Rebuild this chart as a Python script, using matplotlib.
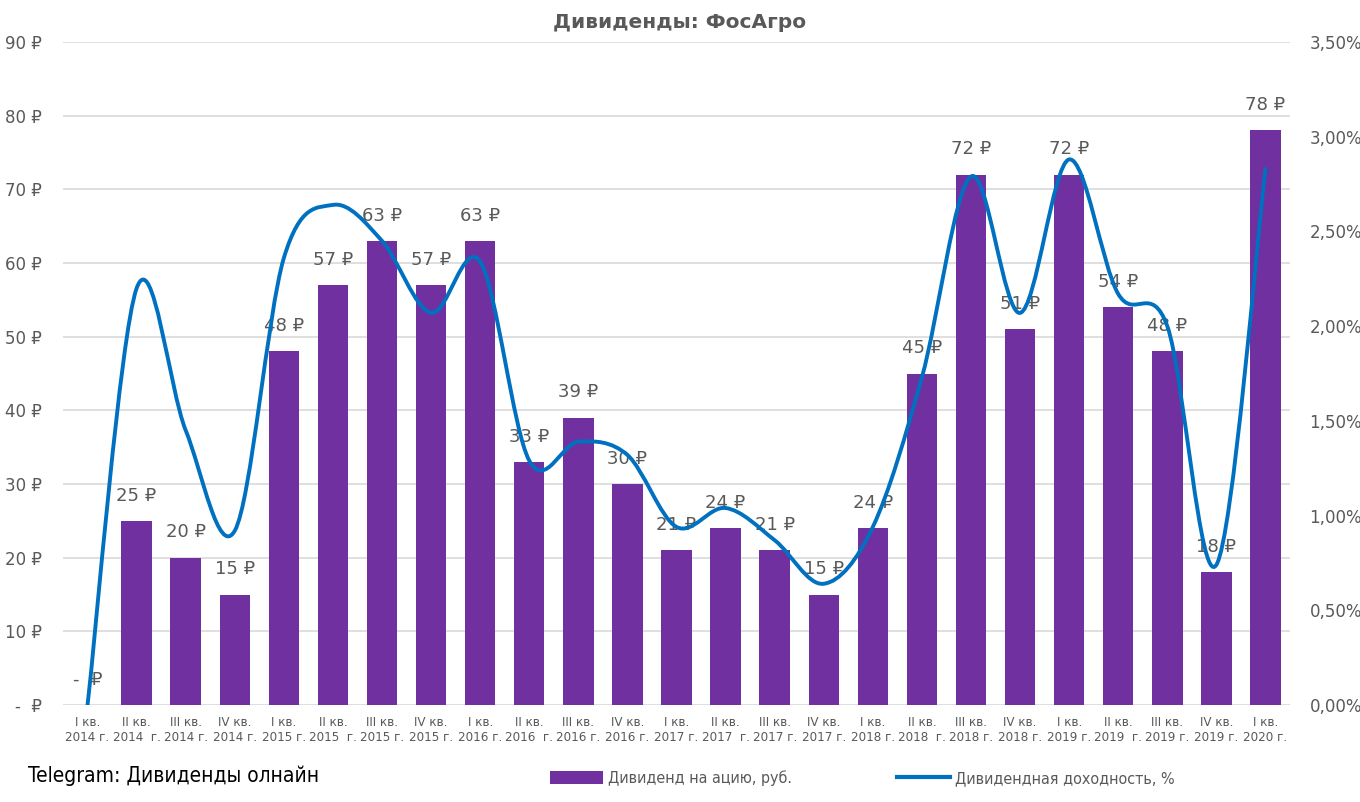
import numpy as np
import matplotlib.pyplot as plt
from matplotlib import font_manager
from matplotlib.path import Path
from matplotlib.patches import PathPatch, Patch
from matplotlib.lines import Line2D
from matplotlib.ticker import FuncFormatter

# Data
quarters = ['I кв.\n2014 г.', 'II кв.\n2014  г.', 'III кв.\n2014 г.', 'IV кв.\n2014 г.',
            'I кв.\n2015 г.', 'II кв.\n2015  г.', 'III кв.\n2015 г.', 'IV кв.\n2015 г.',
            'I кв.\n2016 г.', 'II кв.\n2016  г.', 'III кв.\n2016 г.', 'IV кв.\n2016 г.',
            'I кв.\n2017 г.', 'II кв.\n2017  г.', 'III кв.\n2017 г.', 'IV кв.\n2017 г.',
            'I кв.\n2018 г.', 'II кв.\n2018  г.', 'III кв.\n2018 г.', 'IV кв.\n2018 г.',
            'I кв.\n2019 г.', 'II кв.\n2019  г.', 'III кв.\n2019 г.', 'IV кв.\n2019 г.',
            'I кв.\n2020 г.']
dividend = [0, 25, 20, 15, 48, 57, 63, 57, 63, 33, 39, 30, 21, 24, 21, 15,
            24, 45, 72, 51, 72, 54, 48, 18, 78]
div_yield = [0.00, 2.20, 1.45, 0.92, 2.36, 2.64, 2.45, 2.07, 2.34, 1.29, 1.39, 1.32,
             0.94, 1.04, 0.87, 0.64, 0.94, 1.73, 2.79, 2.07, 2.88, 2.17, 2.00, 0.74, 2.83]

BAR = '#7030A0'
LINE = '#0070C0'
TXT = '#595959'
GRID = '#D9D9D9'

# pick a narrow font for the axis labels if one is around
fonts = font_manager.fontManager.ttflist
names = {f.name for f in fonts}
if 'Liberation Sans Narrow' in names:
    NARROW = dict(family=['Liberation Sans Narrow', 'DejaVu Sans'])
elif any(f.name == 'DejaVu Sans' and f.stretch == 'condensed' for f in fonts):
    NARROW = dict(family=['DejaVu Sans'], stretch='condensed')
else:
    NARROW = dict(family=['DejaVu Sans'])

plt.rcParams['font.family'] = ['DejaVu Sans']


def smooth_path(xs, ys):
    """Excel-like smoothed line as cubic Bezier segments"""
    pts = list(zip(xs, ys))
    n = len(pts)
    verts = [pts[0]]
    codes = [Path.MOVETO]
    for i in range(n - 1):
        p0 = pts[max(i - 1, 0)]
        p1 = pts[i]
        p2 = pts[i + 1]
        p3 = pts[min(i + 2, n - 1)]
        c1 = (p1[0] + (p2[0] - p0[0]) / 6, p1[1] + (p2[1] - p0[1]) / 6)
        c2 = (p2[0] - (p3[0] - p1[0]) / 6, p2[1] - (p3[1] - p1[1]) / 6)
        verts += [c1, c2, p2]
        codes += [Path.CURVE4] * 3
    return Path(verts, codes)


fig = plt.figure(figsize=(13.6, 8.02), dpi=100)
ax = fig.add_axes([63 / 1360, 1 - 705 / 802, 1227 / 1360, 663 / 802])
x = np.arange(len(quarters))

ax.bar(x, dividend, width=0.62, color=BAR, zorder=2)
ax.set_xlim(-0.5, len(quarters) - 0.5)
ax.set_ylim(0, 90)
ax.set_yticks(range(0, 91, 10))
ax.yaxis.set_major_formatter(FuncFormatter(lambda v, p: '-  ₽' if v == 0 else '%d ₽' % v))
ax.grid(axis='y', color=GRID, linewidth=1.2, zorder=0)
for s in ax.spines.values():
    s.set_visible(False)
ax.tick_params(axis='y', length=0, labelsize=12, labelcolor=TXT, pad=15)
ax.set_xticks(x)
ax.set_xticklabels(quarters, fontsize=9.5, color=TXT, linespacing=1.15, **NARROW)
ax.tick_params(axis='x', length=0, pad=8)

for xi, v in zip(x, dividend):
    txt = '-  ₽' if v == 0 else '%d ₽' % v
    ax.text(xi, v + 2.2, txt, ha='center', va='bottom', fontsize=13, color=TXT, zorder=3)

ax2 = ax.twinx()
ax2.set_ylim(0, 3.5)
ax2.set_yticks(np.arange(0, 3.51, 0.5))
ax2.yaxis.set_major_formatter(FuncFormatter(lambda v, p: ('%.2f%%' % v).replace('.', ',')))
ax2.tick_params(axis='y', length=0, labelsize=12, labelcolor=TXT, pad=14)
for s in ax2.spines.values():
    s.set_visible(False)
ax2.add_patch(PathPatch(smooth_path(x, div_yield), facecolor='none', edgecolor=LINE,
                        linewidth=2.8, capstyle='round', zorder=4))

fig.text(0.5, 1 - 22 / 802, 'Дивиденды: ФосАгро', ha='center', va='center',
         fontsize=14.5, fontweight='bold', color=TXT)
fig.text(28 / 1360, 1 - 776 / 802, 'Telegram: Дивиденды олнайн', ha='left', va='center',
         fontsize=15, color='black', **NARROW)

handles = [Patch(facecolor=BAR), Line2D([0], [0], color=LINE, linewidth=3)]
prop = dict(size=11.5, **NARROW)
fig.legend(handles, ['Дивиденд на ацию, руб.', 'Дивидендная доходность, %'],
           loc='center left', bbox_to_anchor=(536 / 1360, 1 - 778 / 802), ncol=2,
           frameon=False, labelcolor=TXT, handlelength=3.3, handleheight=0.9,
           columnspacing=6.6, handletextpad=0.3, prop=prop)

fig.savefig('out.png', dpi=100)
